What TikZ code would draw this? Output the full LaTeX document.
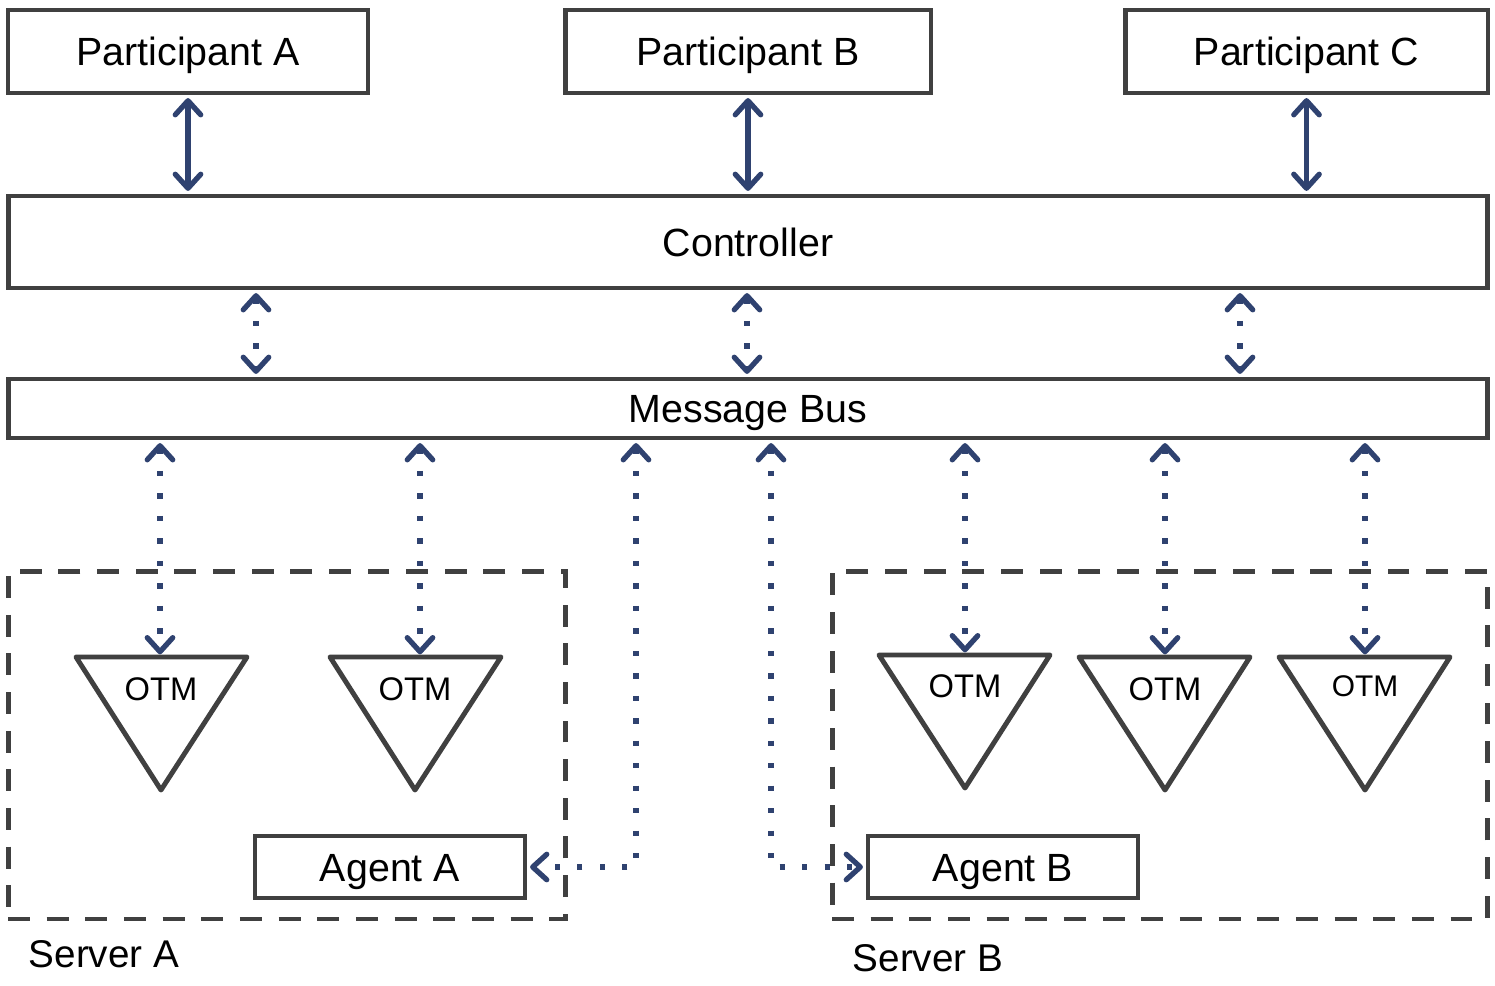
\documentclass[tikz,border=0pt]{standalone}
\usepackage{fontspec}
\setmainfont{Liberation Sans}
\usetikzlibrary{arrows.meta,calc}
\definecolor{arr}{HTML}{2F4270}
\definecolor{edge}{HTML}{404040}
\begin{document}
\begin{tikzpicture}[x=0.02cm,y=-0.02cm,
 >={Straight Barb[length=8pt,width=14.5pt,round]},
 box/.style={draw=edge, line width=2.8pt, fill=white, inner sep=0pt, text height=16pt, text depth=0pt, font=\fontsize{22.4}{26}\selectfont},
 serverbox/.style={draw=edge, line width=2.8pt, dash pattern=on 12.5pt off 9.5pt, inner sep=0pt},
 tri/.style={draw=edge, line width=2.8pt, line join=round},
 otmlabel/.style={inner sep=0pt, text height=13.3pt, text depth=0pt, font=\fontsize{18.6}{22}\selectfont},
 lbl/.style={inner sep=0pt, text height=15.8pt, text depth=0pt, font=\fontsize{22}{26}\selectfont},
 link/.style={draw=arr, line width=3pt, <->, shorten <=1.5pt, shorten >=1.5pt},
 dlink/.style={link, dash pattern=on 3pt off 9.8pt},
]
\useasboundingbox[fill=white] (0,0) rectangle (1495,985);

% server boxes
\node[serverbox, minimum width=11.16cm, minimum height=6.96cm] (srvA) at (287,745) {};
\node[serverbox, minimum width=13.12cm, minimum height=6.96cm] (srvB) at (1160,745) {};
\node[lbl] (srvAlbl) at (104,954) {Server A};
\node[lbl] (srvBlbl) at (928,958) {Server B};

% top boxes
\node[box, minimum width=7.2cm, minimum height=1.66cm] (pA) at (188,51.5) {Participant A};
\node[box, minimum width=7.32cm, minimum height=1.66cm] (pB) at (748,51.5) {Participant B};
\node[box, minimum width=7.26cm, minimum height=1.66cm] (pC) at (1306.5,51.5) {Participant C};
\node[box, minimum width=29.6cm, minimum height=1.84cm] (ctrl) at (748,242) {Controller};
\node[box, minimum width=29.6cm, minimum height=1.18cm] (bus) at (748,408.5) {Message Bus};

% agents
\node[box, minimum width=5.4cm, minimum height=1.24cm] (agA) at (390,867) {Agent A};
\node[box, minimum width=5.4cm, minimum height=1.24cm] (agB) at (1003,867) {Agent B};

% OTM triangles
\coordinate (t1) at (160,657);
\draw[tri] (76,657) -- (247,657) -- (161,790) -- cycle;
\node[otmlabel] (o1) at (161,689) {OTM};
\coordinate (t2) at (420,657);
\draw[tri] (330,657) -- (501,657) -- (415,790) -- cycle;
\node[otmlabel] (o2) at (415,689) {OTM};
\coordinate (t3) at (965,655);
\draw[tri] (879,655) -- (1050,655) -- (965,788) -- cycle;
\node[otmlabel] (o3) at (965,686) {OTM};
\coordinate (t4) at (1165,657);
\draw[tri] (1079,657) -- (1250,657) -- (1165,790) -- cycle;
\node[otmlabel] (o4) at (1165,689) {OTM};
\coordinate (t5) at (1365,657);
\draw[tri] (1279,657) -- (1450,657) -- (1365,790) -- cycle;
\node[otmlabel, font=\fontsize{17}{20}\selectfont, text height=12.2pt] (o5) at (1365,686) {OTM};

% participant <-> controller
\draw[link] (pA.south) -- (pA.south |- ctrl.north);
\draw[link] (pB.south) -- (pB.south |- ctrl.north);
\draw[link] (pC.south) -- (pC.south |- ctrl.north);

% controller <-> bus
\coordinate (x1) at (256,0);
\coordinate (x2) at (747,0);
\coordinate (x3) at (1240,0);
\draw[dlink] (ctrl.south -| x1) -- (bus.north -| x1);
\draw[dlink] (ctrl.south -| x2) -- (bus.north -| x2);
\draw[dlink] (ctrl.south -| x3) -- (bus.north -| x3);

% bus <-> OTMs
\draw[dlink] (bus.south -| t1) -- (t1);
\draw[dlink] (bus.south -| t2) -- (t2);
\draw[dlink] (bus.south -| t3) -- (t3);
\draw[dlink] (bus.south -| t4) -- (t4);
\draw[dlink] (bus.south -| t5) -- (t5);

% bus <-> agents
\coordinate (xa) at (636,0);
\coordinate (xb) at (771,0);
\draw[dlink] (bus.south -| xa) |- (agA.east);
\draw[dlink] (bus.south -| xb) |- (agB.west);
\end{tikzpicture}
\end{document}
